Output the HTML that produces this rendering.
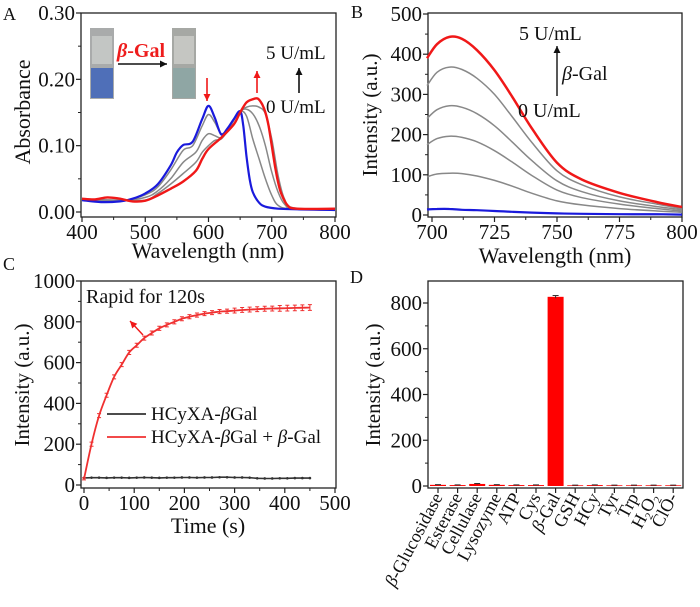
<!DOCTYPE html>
<html><head><meta charset="utf-8"><style>
html,body{margin:0;padding:0;background:#fff;}
svg, svg text{font-family:"Liberation Serif","Times New Roman",Times,"DejaVu Serif",serif !important;}
</style></head><body>
<svg id="fig" width="700" height="602" viewBox="0 0 700 602" xmlns="http://www.w3.org/2000/svg" font-family="Liberation Serif, Times New Roman, serif"></svg>
<script>
// ---------- Panel A data (absorbance) ----------
const aBlueX=[400,430,460,480,500,520,540,550,560,575,590,600,610,620,630,640,650,655,660,665,670,680,690,710,740,800];
const aBlueY=[0.018,0.015,0.016,0.02,0.028,0.042,0.07,0.09,0.101,0.106,0.14,0.16,0.142,0.117,0.126,0.14,0.152,0.13,0.085,0.05,0.03,0.014,0.008,0.005,0.004,0.003];
const aRedX=[400,420,440,460,480,500,520,540,560,580,590,600,620,640,650,660,670,678,685,690,695,700,705,710,715,725,740,800];
const aRedY=[0.02,0.019,0.022,0.02,0.016,0.017,0.025,0.035,0.046,0.062,0.08,0.095,0.112,0.132,0.15,0.165,0.17,0.171,0.162,0.15,0.13,0.1,0.07,0.045,0.028,0.01,0.005,0.005];
const aG1X=[400,460,500,520,540,560,575,590,600,610,620,630,640,650,660,670,680,690,700,710,730,800];
const aG1Y=[0.018,0.016,0.026,0.038,0.063,0.093,0.1,0.13,0.147,0.135,0.118,0.125,0.14,0.152,0.145,0.11,0.08,0.05,0.025,0.01,0.005,0.004];
const aG2X=[400,460,500,520,540,560,580,590,600,610,620,630,640,650,660,670,680,690,700,710,720,735,800];
const aG2Y=[0.018,0.017,0.022,0.032,0.05,0.075,0.09,0.108,0.118,0.115,0.112,0.122,0.14,0.152,0.155,0.148,0.13,0.1,0.06,0.03,0.012,0.005,0.004];
const aG3X=[400,460,500,520,540,560,580,590,600,610,620,630,640,650,660,670,680,690,700,710,720,735,800];
const aG3Y=[0.019,0.018,0.018,0.028,0.042,0.058,0.075,0.09,0.1,0.108,0.11,0.122,0.138,0.152,0.158,0.16,0.158,0.148,0.11,0.055,0.02,0.006,0.005];
const aXTicks=[400,500,600,700,800];
const aYTicks=[0,0.1,0.2,0.3];
const aYLabels=["0.00","0.10","0.20","0.30"];
// ---------- Panel B data (fluorescence spectra) ----------
const bX=[698,702,707,712,718,725,732,740,750,760,775,790,800];
const bRed=[390,425,443,438,410,360,295,215,130,88,55,32,20];
const bG4=[322,355,368,362,340,300,245,180,110,75,45,27,16];
const bG3=[240,262,272,268,252,222,182,135,85,58,35,21,13];
const bG2=[175,190,196,193,182,160,132,98,62,43,27,16,10];
const bG1=[95,102,104,103,97,86,72,54,35,25,16,10,7];
const bBlue=[14,15,15,13,12,10,8,6,4,3,2,2,1];
const bXTicks=[700,725,750,775,800];
const bYTicks=[0,100,200,300,400,500];
// ---------- Panel C data (kinetics) ----------
const cT=[0,15,30,45,60,75,90,105,120,135,150,165,180,195,210,225,240,255,270,285,300,315,330,345,360,375,390,405,420,435,450];
const cRed=[30,200,340,440,530,590,650,685,720,745,768,785,800,815,825,833,840,845,850,852,855,858,860,862,864,865,866,867,868,869,870];
const cBlack=[35,36,36,35,36,36,35,36,37,36,35,36,36,37,37,36,37,37,38,38,37,37,36,33,32,32,33,33,34,34,34];
const cErr=[5,10,10,10,10,10,10,10,10,10,10,10,10,10,10,10,10,10,10,10,12,12,12,12,12,12,14,14,14,14,14];
const cXTicks=[0,100,200,300,400,500];
const cYTicks=[0,200,400,600,800,1000];
// ---------- Panel D data (selectivity) ----------
const dCats=["β-Glucosidase","Esterase","Cellulase","Lysozyme","ATP","Cys","β-Gal","GSH","HCy","Tyr","Trp","H2O2","ClO-"];
const dVals=[5,4,9,5,4,4,827,3,4,3,3,3,3];
const dErr=[1,1,2,1,1,1,6,1,1,1,1,1,1];
const dYTicks=[0,200,400,600,800];

const NS="http://www.w3.org/2000/svg";
const FONT='"Liberation Serif","Times New Roman",Times,serif';
const svg=document.getElementById('fig');
function mk(tag,attrs,parent){const e=document.createElementNS(NS,tag);for(const k in attrs)e.setAttribute(k,attrs[k]);(parent||svg).appendChild(e);return e;}
function lin(d0,d1,r0,r1){return v=>r0+(v-d0)*(r1-r0)/(d1-d0);}
function pathD(xs,ys,sx,sy){return xs.map((x,i)=>(i?'L':'M')+sx(x).toFixed(1)+','+sy(ys[i]).toFixed(1)).join('');}
function smoothD(xs,ys,sx,sy){
  const p=xs.map((x,i)=>[sx(x),sy(ys[i])]);let d='M'+p[0][0].toFixed(1)+','+p[0][1].toFixed(1);
  for(let i=0;i<p.length-1;i++){const p0=p[i-1]||p[i],p1=p[i],p2=p[i+1],p3=p[i+2]||p2;
    const c1=[p1[0]+(p2[0]-p0[0])/6,p1[1]+(p2[1]-p0[1])/6],c2=[p2[0]-(p3[0]-p1[0])/6,p2[1]-(p3[1]-p1[1])/6];
    d+=`C${c1[0].toFixed(1)},${c1[1].toFixed(1)} ${c2[0].toFixed(1)},${c2[1].toFixed(1)} ${p2[0].toFixed(1)},${p2[1].toFixed(1)}`;}
  return d;}

function axes(g,box,sx,sy,xt,yt,ylab,xMinor,yMinor){
  const fr=mk('rect',{x:box.l,y:box.t,width:box.r-box.l,height:box.b-box.t,fill:'none',stroke:'#222','stroke-width':1.3},g);
  
  
  if(xt){xt.forEach(v=>{const x=sx(v);mk('line',{x1:x,x2:x,y1:box.b,y2:box.b+5,stroke:'#222','stroke-width':1.2},g);
    const t=mk('text',{x:x,y:box.b+22,'font-size':21,'text-anchor':'middle',fill:'#111','font-family':FONT},g);t.textContent=v;
    
    });}
  (xMinor||[]).forEach(v=>{const x=sx(v);mk('line',{x1:x,x2:x,y1:box.b,y2:box.b+3,stroke:'#222','stroke-width':1},g);});
  yt.forEach((v,i)=>{const y=sy(v);mk('line',{x1:box.l-5,x2:box.l,y1:y,y2:y,stroke:'#222','stroke-width':1.2},g);
    const t=mk('text',{x:box.l-6,y:y+7,'font-size':21,'text-anchor':'end',fill:'#111','font-family':FONT},g);t.textContent=ylab?ylab[i]:v;
    
    });
  (yMinor||[]).forEach(v=>{const y=sy(v);mk('line',{x1:box.l-3,x2:box.l,y1:y,y2:y,stroke:'#222','stroke-width':1},g);});
}
function txt(g,x,y,s,size,attrs,name){const t=mk('text',Object.assign({x:x,y:y,'font-size':size,fill:'#111','font-family':FONT},attrs||{}),g);t.innerHTML=s;
  
  return t;}
function arrow(g,x1,y1,x2,y2,col,w){mk('line',{x1:x1,y1:y1,x2:x2,y2:y2,stroke:col,'stroke-width':w||1.5},g);
  const a=Math.atan2(y2-y1,x2-x1),L=7,W=3.5;
  const p=[[x2,y2],[x2-L*Math.cos(a)+W*Math.sin(a),y2-L*Math.sin(a)-W*Math.cos(a)],[x2-L*Math.cos(a)-W*Math.sin(a),y2-L*Math.sin(a)+W*Math.cos(a)]];
  mk('polygon',{points:p.map(q=>q.join(',')).join(' '),fill:col},g);}

// ================= Panel A =================
const gA=mk('g',{});
const boxA={l:81,r:336,t:13,b:217};
const axA=lin(400,800,82,335), ayA=lin(0,0.3,212,13);
axes(gA,boxA,axA,ayA,aXTicks,aYTicks,aYLabels,[450,550,650,750],[0.05,0.15,0.25]);
[[aG1X,aG1Y],[aG2X,aG2Y],[aG3X,aG3Y]].forEach(s=>{const p=mk('path',{d:smoothD(s[0],s[1],axA,ayA),fill:'none',stroke:'#888','stroke-width':1.5},gA);
  });
let pA=mk('path',{d:smoothD(aBlueX,aBlueY,axA,ayA),fill:'none',stroke:'#1a1adc','stroke-width':2.2},gA);

pA=mk('path',{d:smoothD(aRedX,aRedY,axA,ayA),fill:'none',stroke:'#f01818','stroke-width':2.4},gA);

const cuv1=mk('g',{},gA);
mk('rect',{x:90,y:28,width:24,height:71,fill:'#a9abab'},cuv1);mk('rect',{x:92,y:36,width:20,height:28,fill:'#c3c6c4'},cuv1);
mk('rect',{x:91,y:68,width:22,height:30,fill:'#4f6fb8'},cuv1);
const cuv2=mk('g',{},gA);
mk('rect',{x:172,y:28,width:24,height:71,fill:'#a6a8a4'},cuv2);mk('rect',{x:174,y:36,width:20,height:28,fill:'#c5c6c2'},cuv2);
mk('rect',{x:173,y:68,width:22,height:30,fill:'#8fa6a4'},cuv2);
arrow(gA,118,64,167,64,'#111',1.6);
txt(gA,117,57,'<tspan font-style="italic">β</tspan>-Gal',20,{fill:'#ee1c1c','font-weight':'bold'},'inset-beta-gal-label');
txt(gA,266,59,'5 U/mL',19,{},'label-5u');
txt(gA,266,113,'0 U/mL',19,{},'label-0u');
arrow(gA,299,93,299,68,'#111',1.6);
arrow(gA,207,78,207,101,'#f01818',1.6);
arrow(gA,257,93,257,71,'#f01818',1.6);
txt(gA,30,112,'Absorbance',22,{'text-anchor':'middle',transform:'rotate(-90 30 112)'},'y-axis-title-a');
txt(gA,208,258,'Wavelength (nm)',22,{'text-anchor':'middle'},'x-axis-title-a');
txt(gA,3,20,'A',18,{},'panel-label-a');

// ================= Panel B =================
const gB=mk('g',{});
const boxB={l:428,r:682,t:13,b:217};
const axB=lin(700,800,432,682), ayB=lin(0,500,215,14);
axes(gB,boxB,axB,ayB,bXTicks,bYTicks,null,[712.5,737.5,762.5,787.5],[50,150,250,350,450]);
[bG1,bG2,bG3,bG4].forEach(s=>{const p=mk('path',{d:smoothD(bX,s,axB,ayB),fill:'none',stroke:'#888','stroke-width':1.5},gB);
  });
let pB=mk('path',{d:smoothD(bX,bBlue,axB,ayB),fill:'none',stroke:'#1a1adc','stroke-width':2.2},gB);

pB=mk('path',{d:smoothD(bX,bRed,axB,ayB),fill:'none',stroke:'#f01818','stroke-width':2.5},gB);

txt(gB,519,40,'5 U/mL',20,{},'label-5u-b');
txt(gB,518,117,'0 U/mL',20,{},'label-0u-b');
txt(gB,562,80,'<tspan font-style="italic">β</tspan>-Gal',20,{},'label-beta-gal-b');
arrow(gB,557,96,557,46,'#111',1.4);
txt(gB,377,115,'Intensity (a.u.)',21,{'text-anchor':'middle',transform:'rotate(-90 377 115)'},'y-axis-title-b');
txt(gB,555,263,'Wavelength (nm)',22,{'text-anchor':'middle'},'x-axis-title-b');
txt(gB,351,18,'B',18,{},'panel-label-b');

// ================= Panel C =================
const gC=mk('g',{});
const boxC={l:81,r:336,t:281,b:488};
const axC=lin(0,500,84,335), ayC=lin(0,1000,485,281);
axes(gC,boxC,axC,ayC,cXTicks,cYTicks,null,[50,150,250,350,450],[100,300,500,700,900]);
let pC=mk('path',{d:pathD(cT,cBlack,axC,ayC),fill:'none',stroke:'#333','stroke-width':1.6},gC);

cT.forEach((t,i)=>{const d=mk('circle',{cx:axC(t),cy:ayC(cBlack[i]),r:1.3,fill:'#333'},gC);
  });
pC=mk('path',{d:smoothD(cT,cRed,axC,ayC),fill:'none',stroke:'#f03030','stroke-width':1.8},gC);

cT.forEach((t,i)=>{const x=axC(t),y1=ayC(cRed[i]+cErr[i]),y2=ayC(cRed[i]-cErr[i]);
  const e=mk('path',{d:`M${x},${y1}L${x},${y2}M${x-2},${y1}L${x+2},${y1}M${x-2},${y2}L${x+2},${y2}`,stroke:'#f03030','stroke-width':1},gC);
  });
txt(gC,86,303,'Rapid for 120s',20,{},'annotation-rapid');
arrow(gC,143,335,130,321,'#f01818',1.4);
const lg=mk('g',{},gC);
mk('line',{x1:107,x2:146,y1:414,y2:414,stroke:'#333','stroke-width':1.8},lg);
txt(lg,151,420,'HCyXA-<tspan font-style="italic">β</tspan>Gal',19,{},'legend-entry-probe');
mk('line',{x1:107,x2:146,y1:437,y2:437,stroke:'#f03030','stroke-width':1.8},lg);
txt(lg,151,443,'HCyXA-<tspan font-style="italic">β</tspan>Gal + <tspan font-style="italic">β</tspan>-Gal',19,{},'legend-entry-probe-enzyme');
txt(gC,29,385,'Intensity (a.u.)',21,{'text-anchor':'middle',transform:'rotate(-90 29 385)'},'y-axis-title-c');
txt(gC,208,533,'Time (s)',22,{'text-anchor':'middle'},'x-axis-title-c');
txt(gC,3,270,'C',18,{},'panel-label-c');

// ================= Panel D =================
const gD=mk('g',{});
const boxD={l:428,r:683,t:281,b:488};
const ayD=lin(0,800,486,303);
const axD=i=>438+i*19.6;
axes(gD,boxD,null,ayD,null,dYTicks,null,null,[100,300,500,700]);
dCats.forEach((c,i)=>{const x=axD(i);
  mk('line',{x1:x,x2:x,y1:boxD.b,y2:boxD.b+5,stroke:'#222','stroke-width':1.2},gD);
  const bar=mk('rect',{x:x-8,y:ayD(dVals[i]),width:16,height:ayD(0)-ayD(dVals[i]),fill:'#ff0000'},gD);
  
  
  const ey1=ayD(dVals[i]+dErr[i]),ey2=ayD(dVals[i]-dErr[i]);
  mk('path',{d:`M${x},${ey1}L${x},${ey2}M${x-3},${ey1}L${x+3},${ey1}`,stroke:'#333','stroke-width':1},gD);
  let lab=c.replace(/^β/,'<tspan font-style="italic">β</tspan>').replace('H2O2','H<tspan font-size="11" dy="4">2</tspan><tspan dy="-4">O</tspan><tspan font-size="11" dy="4">2</tspan>');
  txt(gD,0,0,lab,18,{'text-anchor':'end',transform:`translate(${x+5},${boxD.b+9}) rotate(-62)`},'category-label');
});
txt(gD,380,385,'Intensity (a.u.)',21,{'text-anchor':'middle',transform:'rotate(-90 380 385)'},'y-axis-title-d');
txt(gD,350,283,'D',18,{},'panel-label-d');
</script>
</body></html>
